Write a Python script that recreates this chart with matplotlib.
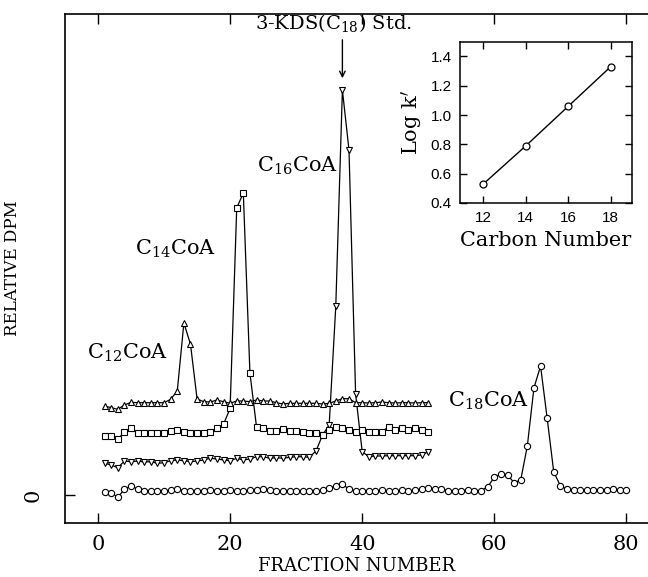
import matplotlib
matplotlib.use("Agg")
import matplotlib.pyplot as plt
import numpy as np

plt.rcParams['font.family'] = ['DejaVu Serif']
plt.rcParams['mathtext.fontset'] = 'dejavuserif'

# fraction numbers
frac_50 = np.arange(1, 51)
frac_80 = np.arange(1, 81)

# relative DPM, each trace (offset baselines)
c18_circles = [0.33, 0.23, -0.23, 0.57, 0.93, 0.57, 0.4, 0.4, 0.4, 0.4,
               0.45, 0.6, 0.4, 0.35, 0.4, 0.4, 0.45, 0.4, 0.4, 0.45,
               0.4, 0.4, 0.45, 0.5, 0.55, 0.45, 0.4, 0.4, 0.35, 0.35,
               0.4, 0.4, 0.4, 0.45, 0.67, 0.93, 1.1, 0.57, 0.4, 0.4,
               0.4, 0.4, 0.45, 0.4, 0.4, 0.45, 0.4, 0.45, 0.6, 0.67,
               0.6, 0.57, 0.43, 0.4, 0.43, 0.5, 0.43, 0.43, 0.83, 1.77,
               2.1, 2.0, 1.23, 1.5, 4.9, 10.7, 12.9, 7.7, 2.3, 0.93,
               0.57, 0.47, 0.47, 0.47, 0.47, 0.47, 0.47, 0.6, 0.5, 0.47]

c16_down = [3.17, 3.0, 2.73, 3.4, 3.33, 3.4, 3.3, 3.33, 3.17, 3.23,
            3.43, 3.5, 3.43, 3.33, 3.4, 3.5, 3.67, 3.6, 3.5, 3.43,
            3.67, 3.5, 3.6, 3.83, 3.83, 3.67, 3.73, 3.67, 3.77, 3.83,
            3.83, 3.77, 4.4, 6.0, 7.0, 18.9, 40.5, 34.5, 10.1, 4.33,
            3.83, 3.9, 3.9, 3.93, 3.93, 3.93, 3.93, 3.93, 4.0, 4.33]

c14_squares = [5.9, 5.9, 5.57, 6.33, 6.67, 6.23, 6.23, 6.23, 6.17, 6.17,
               6.4, 6.5, 6.33, 6.23, 6.23, 6.23, 6.33, 6.67, 7.07, 8.67,
               28.7, 30.2, 12.2, 6.8, 6.67, 6.4, 6.4, 6.6, 6.4, 6.4,
               6.33, 6.23, 6.23, 6.0, 6.5, 6.83, 6.73, 6.5, 6.33, 6.5,
               6.33, 6.33, 6.33, 6.83, 6.5, 6.67, 6.5, 6.67, 6.5, 6.33]

c12_up = [8.9, 8.73, 8.57, 9.0, 9.27, 9.23, 9.23, 9.23, 9.23, 9.23,
          9.57, 10.4, 17.2, 15.07, 9.6, 9.33, 9.3, 9.5, 9.33, 9.17,
          9.4, 9.4, 9.33, 9.5, 9.4, 9.4, 9.23, 9.1, 9.17, 9.17,
          9.17, 9.17, 9.17, 9.1, 9.17, 9.4, 9.63, 9.63, 9.23, 9.23,
          9.2, 9.23, 9.3, 9.23, 9.2, 9.23, 9.23, 9.2, 9.23, 9.23]

# inset
carbon_number = [12, 14, 16, 18]
log_k = [0.53, 0.79, 1.06, 1.33]

fig = plt.figure(figsize=(6.48, 5.77), dpi=100)
ax = fig.add_axes([0.1003, 0.0936, 0.9, 0.8821])

style = dict(color='black', lw=0.9, mfc='white', mec='black', mew=0.8)
ax.plot(frac_80, c18_circles, marker='o', ms=4.5, **style)
ax.plot(frac_50, c16_down, marker='v', ms=4.2, **style)
ax.plot(frac_50, c14_squares, marker='s', ms=4.0, **style)
ax.plot(frac_50, c12_up, marker='^', ms=4.2, **style)

ax.set_xlim(-5, 83.3)
ax.set_ylim(-2.8, 48.1)
ax.set_xticks([0, 20, 40, 60, 80])
ax.set_yticks([0])
ax.tick_params(axis='x', direction='in', top=True, length=7, width=1,
               labelsize=15, pad=9)
ax.tick_params(axis='y', direction='in', length=7, width=1,
               labelsize=15, pad=16, labelrotation=90)
for lab in ax.get_yticklabels():
    lab.set_va('center')
ax.spines['right'].set_visible(False)
for s in ['left', 'top', 'bottom']:
    ax.spines[s].set_linewidth(1.2)
ax.set_xlabel('FRACTION NUMBER', fontsize=13, labelpad=2)
ax.set_ylabel('RELATIVE DPM', fontsize=12)
ax.yaxis.set_label_coords(-0.075, 0.5)

tsize = 15
ax.text(-1.6, 13.6, r'C$_{12}$CoA', fontsize=tsize)
ax.text(5.6, 24.0, r'C$_{14}$CoA', fontsize=tsize)
ax.text(24.0, 32.3, r'C$_{16}$CoA', fontsize=tsize)
ax.text(53.0, 8.8, r'C$_{18}$CoA', fontsize=tsize)
ax.text(35.6, 46.6, r'3-KDS(C$_{18}$) Std.', fontsize=14, ha='center')
ax.annotate('', xy=(37, 41.4), xytext=(37, 45.8),
            arrowprops=dict(arrowstyle='->', color='black', lw=1))

# inset
ins = fig.add_axes([0.7099, 0.6482, 0.2654, 0.2795])
ins.plot(carbon_number, log_k, marker='o', ms=5, color='black', lw=1,
         mfc='white', mec='black', mew=0.9)
ins.set_xlim(10.9, 19.0)
ins.set_ylim(0.4, 1.5)
ins.set_xticks(carbon_number)
ins.set_yticks([0.4, 0.6, 0.8, 1.0, 1.2, 1.4])
ins.set_yticklabels(['0.4', '0.6', '0.8', '1.0', '1.2', '1.4'])
ins.tick_params(direction='in', top=True, right=True, length=5, width=1,
                pad=6)
for lab in ins.get_xticklabels() + ins.get_yticklabels():
    lab.set_family('Liberation Sans')
    lab.set_fontsize(11)
ins.set_xlabel('Carbon Number', fontsize=15, labelpad=4)
ins.set_ylabel("Log k$'$", fontsize=15, labelpad=4)
for s in ins.spines.values():
    s.set_linewidth(1.1)

fig.savefig('out.png', dpi=100)
